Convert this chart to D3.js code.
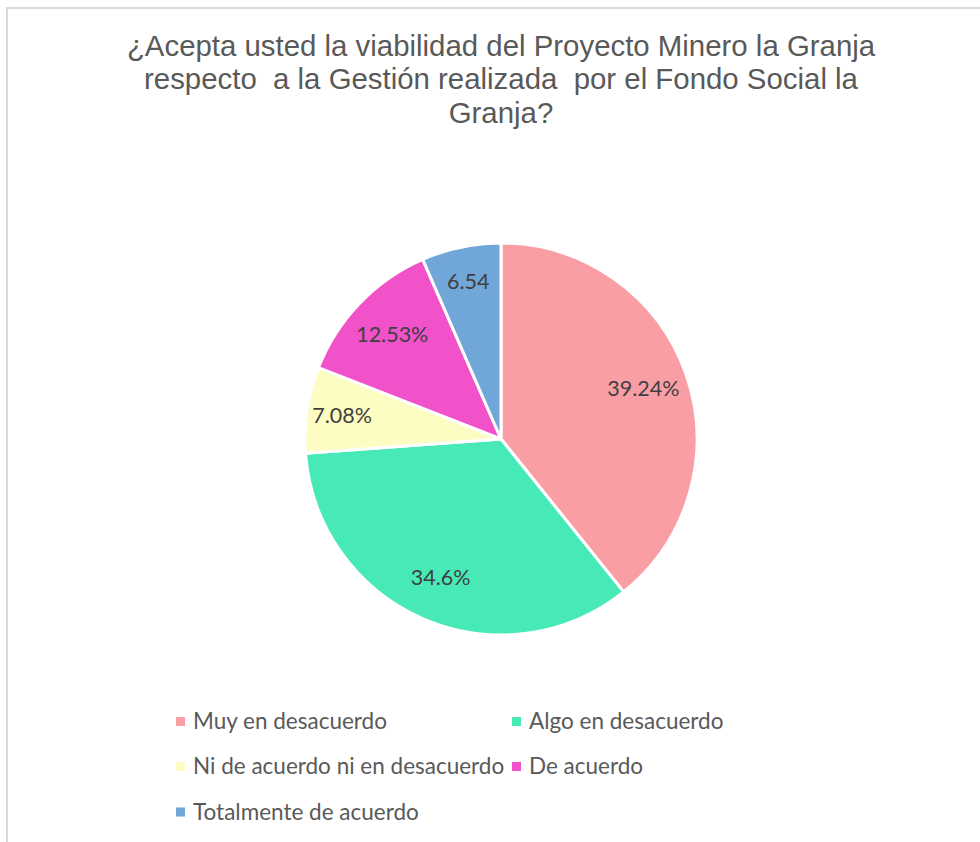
<!DOCTYPE html>
<html>
<head>
<meta charset="utf-8">
<script src="https://cdn.jsdelivr.net/npm/d3@7"></script>
<style>
  body { margin: 0; background: #fff; }
</style>
</head>
<body>
<script>
const width = 980
const height = 842

const titleLines = [
  '¿Acepta usted la viabilidad del Proyecto Minero la Granja',
  'respecto  a la Gestión realizada  por el Fondo Social la',
  'Granja?'
]

const categories = [
  'Muy en desacuerdo',
  'Algo en desacuerdo',
  'Ni de acuerdo ni en desacuerdo',
  'De acuerdo',
  'Totalmente de acuerdo'
]
const values = [39.24, 34.6, 7.08, 12.53, 6.54]
const labels = ['39.24%', '34.6%', '7.08%', '12.53%', '6.54']
const colors = ['#FA9EA6', '#47E9B7', '#FDFCC2', '#F151C9', '#71A7D8']

const cx = 501
const cy = 439
const radius = 196

let svg = d3.select('body')
  .append('svg')
    .attr('width', width)
    .attr('height', height)

// chart area border (runs off the right and bottom of the picture)
svg.append('rect')
  .attr('x', 7)
  .attr('y', 8)
  .attr('width', width + 20)
  .attr('height', height + 20)
  .attr('fill', 'none')
  .attr('stroke', '#d9d9d9')
  .attr('stroke-width', 2)

// title

svg.append('g')
  .attr('font-family', '"Liberation Sans", Arial, sans-serif')
  .attr('font-size', 29.4)
  .attr('fill', '#595959')
  .attr('text-anchor', 'middle')
  .selectAll('text')
  .data(titleLines)
  .join('text')
    .attr('x', 501)
    .attr('y', (d, i) => 56 + i * 33.3)
    .style('white-space', 'pre')
    .text(d => d)

// pie

const pie = d3.pie().sort(null).value(d => d.value)
const arcs = pie(values.map((v, i) => ({ value: v, i: i })))

const arc = d3.arc().innerRadius(0).outerRadius(radius)
// small slices get their label pushed a little further out, like Excel's best fit
const labelRadius = (d) => radius * (d.data.value < 10 ? 0.82 : 0.77)

let g = svg.append('g')
  .attr('transform', 'translate(' + [cx, cy] + ')')

g.selectAll('path')
  .data(arcs)
  .join('path')
    .attr('d', arc)
    .attr('fill', d => colors[d.data.i])
    .attr('stroke', '#fff')
    .attr('stroke-width', 3)
    .attr('stroke-linejoin', 'round')

g.selectAll('text')
  .data(arcs)
  .join('text')
    .attr('transform', d => {
      const r = labelRadius(d)
      return 'translate(' + d3.arc().innerRadius(r).outerRadius(r).centroid(d) + ')'
    })
    .attr('text-anchor', 'middle')
    .attr('dy', '0.35em')
    .attr('font-family', 'Lato, "Open Sans", sans-serif')
    .attr('font-size', 21.5)
    .attr('fill', '#404040')
    .text(d => labels[d.data.i])

// legend

const legendX = [176, 512]
const legendY = [721.5, 766.5, 812]

let legend = svg.append('g')
  .attr('font-family', 'Lato, "Open Sans", sans-serif')
  .attr('font-size', 22.5)
  .attr('fill', '#595959')

let item = legend.selectAll('g')
  .data(categories)
  .join('g')
    .attr('transform', (d, i) => 'translate(' + [legendX[i % 2], legendY[Math.floor(i / 2)]] + ')')

item.append('rect')
  .attr('x', 0)
  .attr('y', -4.5)
  .attr('width', 9)
  .attr('height', 9)
  .attr('fill', (d, i) => colors[i])

item.append('text')
  .attr('x', 17)
  .attr('dy', '0.35em')
  .text(d => d)
</script>
</body>
</html>
